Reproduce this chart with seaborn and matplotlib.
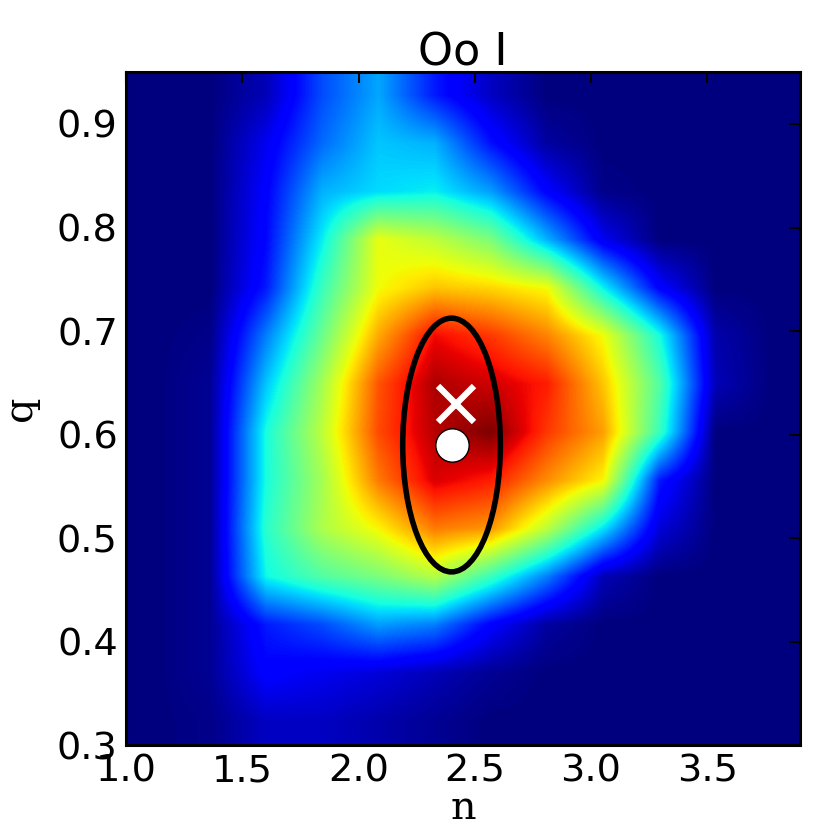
import numpy as np
import matplotlib
matplotlib.use('Agg')
import matplotlib.pyplot as plt
from matplotlib.patches import Ellipse
import seaborn as sns

# Binned grid: 12 bins in n over 1.0-3.9, 14 bins in q over 0.3-0.95
n_range = [1.0, 3.9]
q_range = [0.3, 0.95]

# Relative density, one row per q bin (top row first)
density = [
    [0, 0.00, 0.05, 0.20, 0.29, 0.15, 0.06, 0.00, 0.00, 0.00, 0.00, 0],
    [0, 0.00, 0.10, 0.23, 0.32, 0.30, 0.14, 0.03, 0.00, 0.00, 0.00, 0],
    [0, 0.00, 0.12, 0.30, 0.34, 0.36, 0.28, 0.12, 0.01, 0.00, 0.00, 0],
    [0, 0.00, 0.13, 0.36, 0.63, 0.58, 0.50, 0.30, 0.10, 0.00, 0.00, 0],
    [0, 0.00, 0.15, 0.42, 0.64, 0.70, 0.68, 0.64, 0.36, 0.12, 0.00, 0],
    [0, 0.01, 0.25, 0.48, 0.73, 0.90, 0.85, 0.77, 0.64, 0.38, 0.04, 0],
    [0, 0.02, 0.32, 0.55, 0.82, 0.96, 0.93, 0.88, 0.70, 0.45, 0.05, 0],
    [0, 0.02, 0.38, 0.58, 0.83, 0.95, 1.00, 0.85, 0.74, 0.42, 0.00, 0],
    [0, 0.02, 0.38, 0.55, 0.78, 0.92, 0.88, 0.76, 0.65, 0.15, 0.00, 0],
    [0, 0.02, 0.40, 0.56, 0.65, 0.78, 0.75, 0.58, 0.35, 0.08, 0.00, 0],
    [0, 0.02, 0.37, 0.45, 0.50, 0.57, 0.42, 0.25, 0.05, 0.00, 0.00, 0],
    [0, 0.02, 0.15, 0.20, 0.28, 0.25, 0.12, 0.03, 0.00, 0.00, 0.00, 0],
    [0, 0.02, 0.12, 0.10, 0.08, 0.05, 0.02, 0.00, 0.00, 0.00, 0.00, 0],
    [0, 0.01, 0.06, 0.06, 0.04, 0.02, 0.00, 0.00, 0.00, 0.00, 0.00, 0],
]

# Best-fit point, mean point and 1-sigma ellipse
best_n, best_q = 2.42, 0.63
mean_n, mean_q = 2.40, 0.59
ell_width, ell_height = 0.42, 0.245

title = 'Oo I'

sns.set_style('white')
plt.rcParams['font.family'] = ['DejaVu Sans']
plt.rcParams['text.color'] = 'black'
plt.rcParams['axes.labelcolor'] = 'black'

fig = plt.figure(figsize=(8.3, 8.3), dpi=100)
ax = fig.add_axes([0.152, 0.102, 0.812, 0.811])

extent = [n_range[0], n_range[1], q_range[0], q_range[1]]
ax.imshow(np.array(density), cmap='jet', vmin=0, vmax=1, extent=extent,
          origin='upper', aspect='auto', interpolation='bilinear',
          interpolation_stage='data')

ax.add_patch(Ellipse((mean_n, mean_q), ell_width, ell_height, fill=False,
                     ec='black', lw=4, zorder=3))
ax.plot(mean_n, mean_q, 'o', color='white', mec='black', mew=1, ms=24, zorder=4)
ax.plot(best_n, best_q, 'x', color='white', mew=4.5, ms=26, zorder=4)

ax.set_xlim(n_range)
ax.set_ylim(q_range)
ax.set_xticks([1.0, 1.5, 2.0, 2.5, 3.0, 3.5])
ax.set_yticks([0.3, 0.4, 0.5, 0.6, 0.7, 0.8, 0.9])
ax.tick_params(direction='in', top=True, right=True, length=8, width=1.5,
               labelsize=27.5, pad=6, colors='black')
for s in ax.spines.values():
    s.set_linewidth(2.2)
    s.set_color('black')

ax.set_title(title, fontsize=32, pad=5, color='black')
ax.set_xlabel('n', family='DejaVu Serif', fontsize=28.5, labelpad=0)
ax.set_ylabel('q', family='DejaVu Serif', fontsize=28.5, labelpad=13)

fig.savefig('out.png', dpi=100)
